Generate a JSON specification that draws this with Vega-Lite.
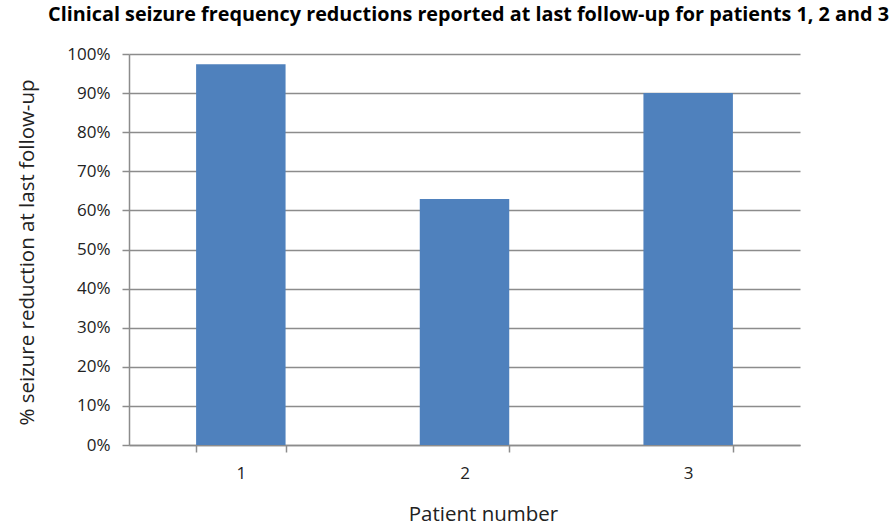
{
  "$schema": "https://vega.github.io/schema/vega-lite/v6.json",
  "width": 671,
  "height": 391,
  "autosize": {"type": "none"},
  "padding": {"left": 129, "top": 54, "right": 91, "bottom": 81},
  "background": "white",
  "title": {
    "text": "Clinical seizure frequency reductions reported at last follow-up for patients 1, 2 and 3",
    "font": "Open Sans",
    "fontSize": 19.8,
    "fontWeight": "bold",
    "color": "#000000",
    "anchor": "middle",
    "baseline": "alphabetic",
    "offset": 4,
    "dx": 4
  },
  "data": {
    "values": [
      {"patient": "1", "reduction": 0.974},
      {"patient": "2", "reduction": 0.629},
      {"patient": "3", "reduction": 0.90}
    ]
  },
  "mark": {"type": "bar", "color": "#4f81bd"},
  "encoding": {
    "x": {
      "field": "patient",
      "type": "ordinal",
      "scale": {"paddingInner": 0.6, "paddingOuter": 0.3},
      "axis": {
        "title": "Patient number",
        "labelAngle": 0,
        "tickBand": "extent",
        "tickSize": 7,
        "tickColor": "#8c8c8c",
        "tickWidth": 1.5,
        "domainColor": "#8c8c8c",
        "domainWidth": 1.5,
        "labelFont": "Open Sans",
        "labelFontSize": 17,
        "labelColor": "#222222",
        "labelPadding": 13,
        "titleFont": "Open Sans",
        "titleFontSize": 20.5,
        "titleFontWeight": "normal",
        "titleColor": "#222222",
        "titleBaseline": "alphabetic",
        "titleX": 354,
        "titleY": 75,
        "grid": false
      }
    },
    "y": {
      "field": "reduction",
      "type": "quantitative",
      "scale": {"domain": [0, 1], "nice": false},
      "axis": {
        "title": "% seizure reduction at last follow-up",
        "values": [0, 0.1, 0.2, 0.3, 0.4, 0.5, 0.6, 0.7, 0.8, 0.9, 1],
        "format": ".0%",
        "grid": true,
        "gridColor": "#8c8c8c",
        "gridWidth": 1.5,
        "tickSize": 7,
        "tickColor": "#8c8c8c",
        "tickWidth": 1.5,
        "domainColor": "#8c8c8c",
        "domainWidth": 1.5,
        "labelFont": "Open Sans",
        "labelFontSize": 17,
        "labelColor": "#222222",
        "labelPadding": 12,
        "titleFont": "Open Sans",
        "titleFontSize": 20.5,
        "titleFontWeight": "normal",
        "titleColor": "#222222",
        "titleBaseline": "alphabetic",
        "titleX": -96,
        "titleY": 198
      }
    }
  },
  "config": {"view": {"stroke": null}}
}
